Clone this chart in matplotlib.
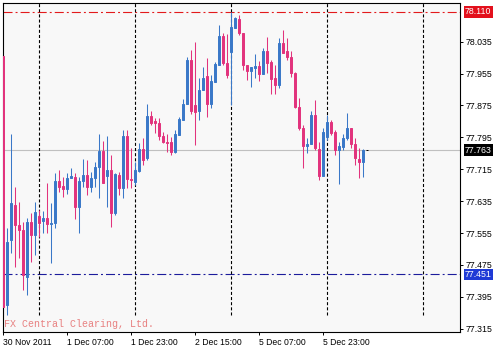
import matplotlib
matplotlib.use('Agg')
import matplotlib.pyplot as plt
import numpy as np
from matplotlib.transforms import blended_transform_factory

# ---------------- data (USDJPY-like H1 candles) ----------------
opens = [77.999, 77.374, 77.537, 77.625, 77.575, 77.563, 77.445, 77.583, 77.550, 77.598,
         77.585, 77.593, 77.578, 77.580, 77.686, 77.673, 77.665, 77.693, 77.696, 77.620,
         77.686, 77.701, 77.670, 77.693, 77.721, 77.761, 77.698, 77.713, 77.605, 77.701,
         77.668, 77.798, 77.691, 77.683, 77.711, 77.766, 77.743, 77.849, 77.836, 77.831,
         77.798, 77.783, 77.783, 77.758, 77.801, 77.839, 77.879, 77.989, 77.876, 77.861,
         77.914, 77.949, 77.879, 77.934, 77.977, 78.049, 77.982, 78.009, 78.069, 78.092,
         78.057, 77.977, 77.962, 77.969, 77.974, 77.954, 78.012, 77.984, 77.944, 77.926,
         78.032, 78.012, 77.997, 77.956, 77.871, 77.818, 77.773, 77.778, 77.851, 77.766,
         77.698, 77.796, 77.834, 77.808, 77.763, 77.771, 77.793, 77.818, 77.778, 77.741,
         77.733, 77.763]
highs = [77.999, 77.568, 77.803, 77.670, 77.633, 77.583, 77.593, 77.605, 77.633, 77.613,
         77.610, 77.681, 77.630, 77.706, 77.713, 77.696, 77.706, 77.718, 77.706, 77.696,
         77.741, 77.738, 77.708, 77.733, 77.803, 77.786, 77.798, 77.751, 77.706, 77.708,
         77.813, 77.813, 77.768, 77.733, 77.781, 77.793, 77.879, 77.861, 77.844, 77.844,
         77.808, 77.803, 77.796, 77.813, 77.846, 77.891, 77.997, 78.014, 78.034, 77.944,
         77.972, 77.994, 77.951, 77.984, 78.077, 78.057, 78.054, 78.110, 78.097, 78.102,
         78.057, 77.977, 77.972, 78.004, 77.987, 78.019, 78.047, 77.989, 77.977, 78.044,
         78.064, 78.044, 78.012, 77.959, 77.894, 77.826, 77.793, 77.861, 77.889, 77.783,
         77.818, 77.851, 77.839, 77.813, 77.783, 77.803, 77.856, 77.818, 77.793, 77.768,
         77.766, 77.763]
lows = [77.349, 77.349, 77.505, 77.470, 77.492, 77.412, 77.399, 77.482, 77.500, 77.545,
        77.555, 77.555, 77.480, 77.568, 77.658, 77.645, 77.653, 77.693, 77.590, 77.555,
        77.670, 77.650, 77.658, 77.670, 77.643, 77.681, 77.620, 77.570, 77.600, 77.650,
        77.643, 77.668, 77.668, 77.675, 77.708, 77.726, 77.738, 77.826, 77.806, 77.788,
        77.781, 77.758, 77.751, 77.756, 77.801, 77.839, 77.879, 77.854, 77.776, 77.839,
        77.914, 77.846, 77.869, 77.934, 77.977, 77.977, 77.944, 77.876, 78.069, 78.052,
        77.964, 77.939, 77.921, 77.944, 77.936, 77.954, 77.956, 77.904, 77.904, 77.919,
        78.007, 77.989, 77.946, 77.869, 77.813, 77.718, 77.756, 77.778, 77.763, 77.688,
        77.698, 77.788, 77.801, 77.751, 77.678, 77.763, 77.788, 77.768, 77.726, 77.693,
        77.696, 77.763]
closes = [77.369, 77.532, 77.630, 77.575, 77.563, 77.450, 77.583, 77.550, 77.608, 77.580,
          77.593, 77.578, 77.580, 77.686, 77.670, 77.665, 77.693, 77.698, 77.620, 77.686,
          77.701, 77.670, 77.693, 77.721, 77.761, 77.681, 77.713, 77.605, 77.703, 77.668,
          77.798, 77.691, 77.688, 77.713, 77.766, 77.738, 77.849, 77.831, 77.831, 77.798,
          77.783, 77.781, 77.758, 77.803, 77.841, 77.879, 77.989, 77.861, 77.859, 77.914,
          77.944, 77.879, 77.936, 77.979, 78.049, 77.982, 77.951, 78.072, 78.094, 78.057,
          77.977, 77.962, 77.972, 77.974, 77.954, 78.012, 77.982, 77.941, 77.926, 78.032,
          78.007, 77.997, 77.956, 77.871, 77.818, 77.773, 77.778, 77.851, 77.768, 77.698,
          77.808, 77.834, 77.806, 77.763, 77.773, 77.793, 77.818, 77.778, 77.743, 77.733,
          77.763, 77.763]

ytick_values = [78.035, 77.955, 77.875, 77.795, 77.715, 77.635, 77.555, 77.475, 77.395, 77.315]
xtick_bars = [0, 16, 32, 48, 64, 80]
xtick_labels = ['30 Nov 2011', '1 Dec 07:00', '1 Dec 23:00', '2 Dec 15:00', '5 Dec 07:00', '5 Dec 23:00']
day_separator_bars = [9, 33, 57, 81, 105]
level_high = 78.110
level_low = 77.451
last_price = 77.763
watermark = 'FX Central Clearing, Ltd.'

# ---------------- styling ----------------
plt.rcParams['lines.scale_dashes'] = False
plt.rcParams['font.family'] = ['Liberation Sans', 'DejaVu Sans']
BLUE = '#3a78c8'
PINK = '#e2337d'

fig = plt.figure(figsize=(5, 3.5), dpi=100)
fig.patch.set_facecolor('white')
ax = fig.add_axes([0.005, 0.0514, 0.915, 0.9409])
ax.set_facecolor('#f8f8f8')

o = np.array(opens); h = np.array(highs); l = np.array(lows); c = np.array(closes)
x = np.arange(len(o))
cols = np.where(c > o, BLUE, np.where(c < o, PINK, 'black'))

# reference lines
ax.axhline(last_price, color='#c0c0c0', lw=0.8, zorder=1)
ax.axhline(level_high, color='#e31a1c', lw=0.8, dashes=(6.5, 2.2, 1.4, 2.2), zorder=1)
ax.axhline(level_low, color='#1c1c9c', lw=0.8, dashes=(6.5, 2.2, 1.4, 2.2), zorder=1)
for xv in day_separator_bars:
    ax.axvline(xv, ymin=0.0516, ymax=1, color='black', lw=0.8, dashes=(2.2, 1.5), zorder=1)

# candles
ax.vlines(x, l, h, colors=cols, lw=0.75, zorder=2)
bottoms = np.minimum(o, c)
heights = np.abs(c - o)
ax.bar(x, heights, bottom=bottoms, width=0.5, color=cols, edgecolor=cols, linewidth=0.7, zorder=3)

ax.set_xlim(-0.2, 114.2)
ax.set_ylim(77.3066, 78.1328)

# axes / ticks
ax.yaxis.tick_right()
ax.set_yticks(ytick_values)
ax.set_yticklabels([f'{v:.3f}' for v in ytick_values])
ax.tick_params(axis='y', direction='out', length=2.5, width=0.7, pad=1.5, labelsize=6.3, colors='black')
ax.set_xticks(xtick_bars)
ax.set_xticklabels(xtick_labels)
ax.tick_params(axis='x', direction='out', length=2.5, width=0.7, pad=1.5, labelsize=6.2, colors='black')
for lab in ax.get_xticklabels():
    lab.set_ha('left')
for s in ax.spines.values():
    s.set_color('black')
    s.set_linewidth(0.8)

# price labels on the right
trans = blended_transform_factory(ax.transAxes, ax.transData)
for val, fc in [(level_high, '#e3101c'), (last_price, 'black'), (level_low, '#1f3ad6')]:
    ax.annotate(f'{val:.3f}', xy=(1, val), xycoords=trans, xytext=(3.5, 0),
                textcoords='offset points', ha='left', va='center', fontsize=6.3,
                color='white', annotation_clip=False, zorder=10,
                bbox=dict(boxstyle='square,pad=0.15', fc=fc, ec='none'))

ax.text(0.004, 0.024, watermark, transform=ax.transAxes, family='Liberation Mono',
        fontsize=7.2, color='#e88080', va='center', ha='left')

fig.savefig('out.png', dpi=100)
